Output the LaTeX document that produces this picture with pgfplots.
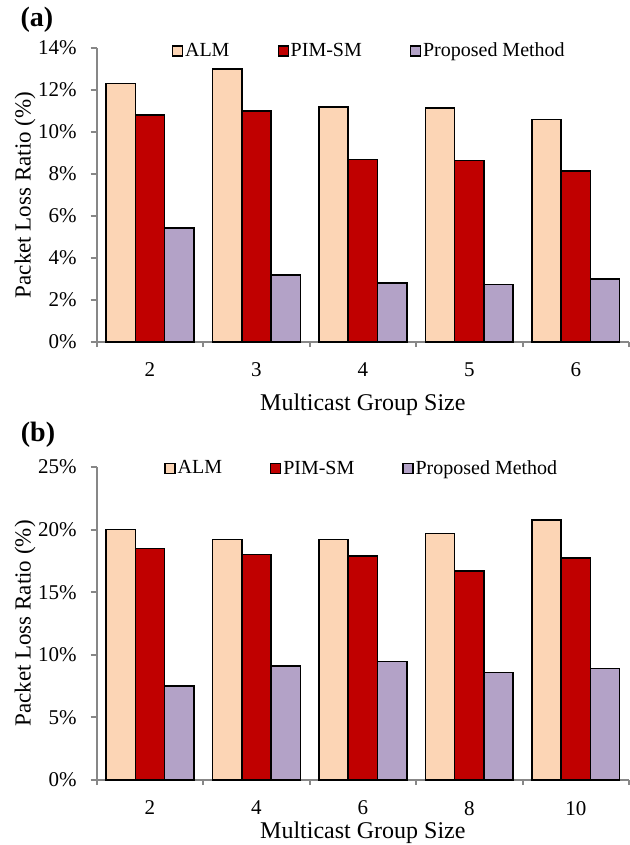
\documentclass[border=0pt]{standalone}
\usepackage{fontspec}
\setmainfont{Liberation Serif}
\usepackage{pgfplots}
\pgfplotsset{compat=1.18}
\definecolor{almc}{HTML}{FCD5B5}
\definecolor{pimc}{HTML}{C00000}
\definecolor{propc}{HTML}{B3A2C7}
\definecolor{axgray}{HTML}{878787}
\pgfplotsset{
  mybars/.style={
    scale only axis,
    anchor=south west,
    width=266.15pt,
    xmin=-0.5, xmax=4.5,
    ymin=0,
    axis x line*=bottom,
    axis y line*=left,
    axis line style={draw=axgray, line width=1pt},
    tick style={draw=axgray, line width=1pt},
    xtick={0,1,2,3,4},
    major x tick style={draw=none},
    minor xtick={-0.5,0.5,1.5,2.5,3.5,4.5},
    minor tick length=2.5pt,
    major tick length=3pt,
    tick align=outside,
    xtick pos=bottom, ytick pos=left,
    /pgf/number format/assume math mode=true,
    tick label style={font=\fontsize{10.5}{12}\selectfont},
    xticklabel style={yshift=-4pt},
    yticklabel style={xshift=-3.5pt},
    label style={font=\fontsize{12}{14}\selectfont},
    ylabel style={font=\fontsize{11.5}{14}\selectfont, anchor=center, rotate=0},
    ybar, bar width=0.275,
    every axis plot/.append style={draw=black, line width=0.75pt},
    legend columns=3,
    legend image code/.code={\draw[#1, line width=0.6pt] (0pt,-2.5pt) rectangle (5pt,2.5pt);},
    legend style={draw=none, fill=none, anchor=center,
      font=\fontsize{10}{12}\selectfont,
      /tikz/every even column/.append style={column sep=22pt},
      /tikz/every odd column/.append style={column sep=-1pt}},
  }
}
\begin{document}
\begin{tikzpicture}
\useasboundingbox (0,0) rectangle (314.5pt,-422.5pt);
\node[font=\bfseries\fontsize{14}{16}\selectfont] at (18.5pt,-10pt) {(a)};
\node[font=\bfseries\fontsize{14}{16}\selectfont] at (19pt,-217.5pt) {(b)};
\begin{axis}[mybars,
  at={(48.35pt,-171pt)},
  height=147pt,
  ymax=14,
  ytick={0,2,4,6,8,10,12,14},
  yticklabels={0\%,2\%,4\%,6\%,8\%,10\%,12\%,14\%},
  xticklabels={2,3,4,5,6},
  xlabel={Multicast Group Size},
  ylabel={Packet Loss Ratio (\%)},
  xlabel style={at={(axis description cs:0.5,-0.214)}, anchor=center},
  ylabel style={at={(axis description cs:-0.1345,0.5)}},
  legend style={at={(axis description cs:0.514,0.99)}},
]
\addplot[fill=almc, bar shift=-0.275] coordinates {(0,12.3) (1,13.0) (2,11.2) (3,11.15) (4,10.6)};
\addplot[fill=pimc, bar shift=0] coordinates {(0,10.8) (1,11.0) (2,8.7) (3,8.65) (4,8.15)};
\addplot[fill=propc, bar shift=0.275] coordinates {(0,5.43) (1,3.2) (2,2.8) (3,2.75) (4,3.0)};
\legend{ALM,PIM-SM,Proposed Method}
\end{axis}
\begin{axis}[mybars,
  at={(48.35pt,-390pt)},
  height=156.5pt,
  ymax=25,
  ytick={0,5,10,15,20,25},
  yticklabels={0\%,5\%,10\%,15\%,20\%,25\%},
  xticklabels={2,4,6,8,10},
  xlabel={Multicast Group Size},
  ylabel={Packet Loss Ratio (\%)},
  xlabel style={at={(axis description cs:0.5,-0.169)}, anchor=center},
  ylabel style={at={(axis description cs:-0.1345,0.5)}},
  legend style={at={(axis description cs:0.50,0.994)}},
]
\addplot[fill=almc, bar shift=-0.275] coordinates {(0,20.0) (1,19.2) (2,19.2) (3,19.7) (4,20.75)};
\addplot[fill=pimc, bar shift=0] coordinates {(0,18.5) (1,18.0) (2,17.9) (3,16.7) (4,17.75)};
\addplot[fill=propc, bar shift=0.275] coordinates {(0,7.5) (1,9.1) (2,9.45) (3,8.6) (4,8.9)};
\legend{ALM,PIM-SM,Proposed Method}
\end{axis}
\end{tikzpicture}
\end{document}
